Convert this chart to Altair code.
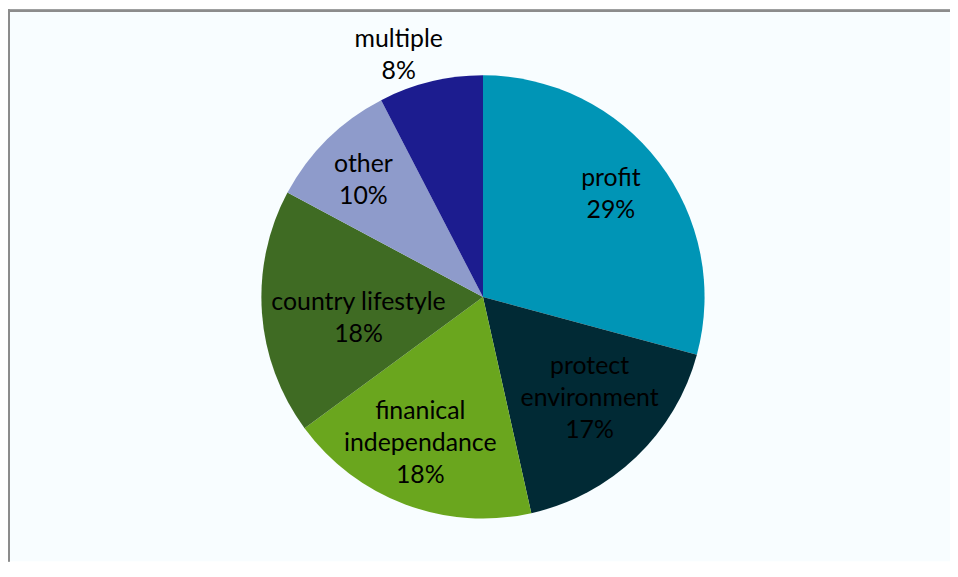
import altair as alt
import pandas as pd

categories = ["profit", "protect environment", "finanical independance",
              "country lifestyle", "other", "multiple"]
label_names = ["profit", "protect\nenvironment", "finanical\nindependance",
               "country lifestyle", "other", "multiple"]
values = [29.2, 17.3, 18.4, 17.9, 9.6, 7.6]
pct_labels = ["29%", "17%", "18%", "18%", "10%", "8%"]
colors = ["#0095B6", "#012A35", "#6AA61E", "#3F6B23", "#8E9BCB", "#1C1C8F"]

df = pd.DataFrame({
    "cat": categories,
    "value": values,
    "label": [n + "\n" + p for n, p in zip(label_names, pct_labels)],
    "idx": list(range(len(categories))),
})

W, H = 948, 555
CX, CY = 478, 289
R = 223
LH = 32

# label placement (radius in px, angular nudge in degrees)
label_radius = {"profit": 165, "protect environment": 148,
                "finanical independance": 160, "country lifestyle": 127,
                "other": 168, "multiple": 258}
label_nudge = {"profit": -1.3, "protect environment": -2.7,
               "finanical independance": 2.7, "country lifestyle": -5.4,
               "other": -1.1, "multiple": -5.5}


def lookup(d, default):
    return " : ".join([f"datum.cat == '{k}' ? {v}" for k, v in d.items()]) + f" : {default}"


arcs = alt.Chart(df).mark_arc(outerRadius=R, stroke=None).encode(
    theta=alt.Theta("value:Q", stack=True),
    order=alt.Order("idx:Q"),
    color=alt.Color("cat:N", scale=alt.Scale(domain=categories, range=colors), legend=None),
    x=alt.value(CX),
    y=alt.value(CY),
)


def text_layer(nlines):
    return alt.Chart(df).transform_window(
        cum="sum(value)", sort=[alt.SortField("idx")]
    ).transform_joinaggregate(
        total="sum(value)"
    ).transform_calculate(
        lr=lookup(label_radius, 160),
        nudge=lookup(label_nudge, 0),
        nl="length(split(datum.label, '\\n'))",
    ).transform_calculate(
        mid="datum.cum - datum.value / 2 + datum.nudge / 360 * datum.total",
    ).transform_filter(
        f"datum.nl == {nlines}"
    ).mark_text(
        font="Lato", fontSize=25, lineBreak="\n", lineHeight=LH,
        align="center", baseline="middle", color="#000000",
        dy=-(nlines - 1) * LH / 2,
    ).encode(
        theta=alt.Theta("mid:Q", stack=None),
        text="label:N",
        radius=alt.Radius("lr:Q", scale=None),
        x=alt.value(CX),
        y=alt.value(CY),
    )


top_rule = alt.Chart(df).mark_rule(color="#8C8C8C", strokeWidth=2).encode(
    x=alt.value(0), x2=alt.value(W), y=alt.value(1)
)
left_rule = alt.Chart(df).mark_rule(color="#8C8C8C", strokeWidth=2).encode(
    x=alt.value(1), y=alt.value(0), y2=alt.value(H)
)

chart = alt.layer(arcs, text_layer(2), text_layer(3), top_rule, left_rule).properties(
    width=W, height=H, padding=0,
    autosize=alt.AutoSizeParams(type="none"),
).configure_view(stroke=None, fill="#F8FDFF")

chart.save("out.html", embed_options={"renderer": "svg", "actions": False})
